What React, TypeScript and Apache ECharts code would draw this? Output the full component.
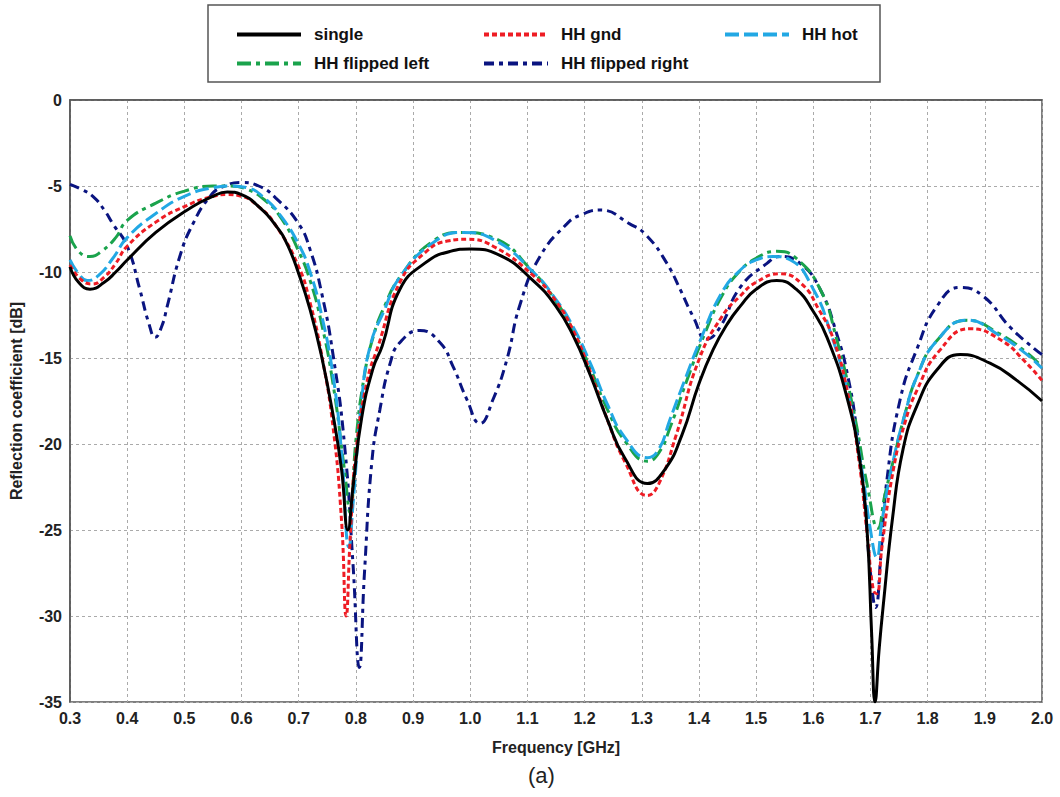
import React, { useEffect, useRef } from "react";
import * as echarts from "echarts";

const seriesNames = ["single", "HH gnd", "HH hot", "HH flipped left", "HH flipped right"];

const singleF = [0.30, 0.315, 0.335, 0.36, 0.38, 0.40, 0.45, 0.50, 0.55, 0.575, 0.60, 0.63, 0.66, 0.68, 0.70, 0.72, 0.74, 0.76, 0.775, 0.786, 0.795, 0.81, 0.83, 0.846, 0.877, 0.92, 0.965, 1.00, 1.05, 1.11, 1.15, 1.18, 1.21, 1.24, 1.27, 1.31, 1.34, 1.37, 1.40, 1.425, 1.45, 1.472, 1.50, 1.536, 1.57, 1.60, 1.624, 1.659, 1.682, 1.694, 1.702, 1.708, 1.715, 1.722, 1.739, 1.757, 1.781, 1.816, 1.857, 1.909, 1.956, 2.00];
const singleDb = [-9.7, -10.6, -11.0, -10.6, -10.0, -9.3, -7.7, -6.5, -5.6, -5.35, -5.5, -6.2, -7.3, -8.4, -10.1, -12.2, -14.9, -18.3, -21.5, -25.0, -22.5, -18.5, -15.6, -14.3, -11.0, -9.5, -8.8, -8.66, -9.0, -10.5, -12.0, -13.7, -16.0, -18.6, -20.8, -22.3, -21.5, -19.5, -16.5, -14.5, -13.0, -12.0, -11.0, -10.5, -11.0, -12.3, -13.8, -17.3, -21.1, -25.0, -31.0, -35.0, -32.0, -29.5, -24.2, -20.3, -17.8, -15.7, -14.8, -15.3, -16.3, -17.5];

const gndF = [0.30, 0.318, 0.338, 0.36, 0.38, 0.40, 0.45, 0.50, 0.55, 0.575, 0.60, 0.63, 0.66, 0.70, 0.72, 0.74, 0.76, 0.775, 0.783, 0.79, 0.80, 0.82, 0.839, 0.877, 0.92, 0.96, 0.994, 1.04, 1.11, 1.15, 1.18, 1.21, 1.24, 1.27, 1.31, 1.33, 1.36, 1.40, 1.44, 1.472, 1.50, 1.542, 1.58, 1.61, 1.634, 1.66, 1.68, 1.695, 1.705, 1.711, 1.72, 1.74, 1.76, 1.781, 1.82, 1.874, 1.93, 1.97, 2.00];
const gndDb = [-9.6, -10.4, -10.7, -10.3, -9.5, -8.5, -7.1, -6.2, -5.6, -5.5, -5.6, -6.2, -7.3, -9.7, -11.8, -14.8, -19.0, -24.5, -30.0, -25.5, -20.5, -16.3, -14.3, -10.6, -8.9, -8.2, -8.1, -8.5, -10.2, -11.7, -13.4, -15.8, -18.6, -21.0, -23.0, -22.3, -19.5, -15.1, -12.6, -11.4, -10.6, -10.1, -10.7, -12.2, -13.8, -17.0, -21.0, -25.5, -28.5, -28.7, -26.0, -21.5, -18.8, -16.9, -14.6, -13.3, -14.0, -15.2, -16.3];

const hotF = [0.30, 0.315, 0.33, 0.35, 0.375, 0.40, 0.45, 0.50, 0.55, 0.58, 0.61, 0.64, 0.67, 0.70, 0.72, 0.74, 0.76, 0.775, 0.788, 0.795, 0.81, 0.825, 0.85, 0.877, 0.935, 0.987, 1.04, 1.11, 1.15, 1.18, 1.21, 1.24, 1.27, 1.31, 1.33, 1.349, 1.375, 1.402, 1.44, 1.472, 1.50, 1.53, 1.56, 1.60, 1.63, 1.66, 1.685, 1.70, 1.711, 1.72, 1.739, 1.76, 1.781, 1.816, 1.869, 1.926, 1.97, 2.00];
const hotDb = [-9.3, -10.1, -10.5, -10.2, -9.2, -8.0, -6.6, -5.6, -5.1, -5.0, -5.1, -5.7, -6.8, -8.4, -10.0, -12.5, -16.0, -20.5, -26.0, -23.5, -17.5, -14.3, -12.2, -10.3, -8.3, -7.7, -8.1, -10.0, -11.6, -13.2, -15.3, -17.7, -19.6, -20.8, -20.3, -18.6, -16.3, -14.0, -11.2, -9.9, -9.3, -9.1, -9.3, -11.0, -13.5, -17.0, -21.5, -25.0, -26.6, -24.5, -21.1, -18.3, -16.1, -14.0, -12.8, -13.7, -14.7, -15.6];

const leftF = [0.30, 0.315, 0.335, 0.355, 0.38, 0.40, 0.45, 0.50, 0.55, 0.58, 0.61, 0.64, 0.67, 0.70, 0.72, 0.74, 0.76, 0.78, 0.79, 0.80, 0.815, 0.83, 0.85, 0.877, 0.935, 0.987, 1.04, 1.11, 1.15, 1.18, 1.21, 1.24, 1.27, 1.31, 1.33, 1.35, 1.38, 1.41, 1.44, 1.47, 1.50, 1.536, 1.57, 1.612, 1.64, 1.67, 1.695, 1.713, 1.725, 1.739, 1.76, 1.781, 1.816, 1.869, 1.926, 1.97, 2.00];
const leftDb = [-7.9, -8.8, -9.1, -8.8, -8.0, -7.0, -6.0, -5.3, -5.0, -5.0, -5.2, -5.8, -6.9, -8.8, -10.5, -13.0, -16.5, -21.5, -24.0, -19.8, -16.0, -13.8, -12.0, -10.3, -8.2, -7.7, -8.0, -10.0, -11.7, -13.4, -15.6, -18.0, -19.8, -21.0, -20.5, -19.0, -16.2, -13.6, -11.4, -10.0, -9.2, -8.8, -9.2, -11.0, -13.8, -18.0, -22.5, -24.9, -23.0, -21.1, -18.3, -16.1, -14.0, -12.8, -13.6, -14.6, -15.5];

const rightF = [0.30, 0.32, 0.34, 0.36, 0.375, 0.40, 0.422, 0.438, 0.449, 0.46, 0.47, 0.492, 0.515, 0.545, 0.567, 0.60, 0.63, 0.66, 0.70, 0.72, 0.74, 0.76, 0.78, 0.795, 0.806, 0.815, 0.828, 0.842, 0.86, 0.877, 0.912, 0.947, 0.97, 0.994, 1.017, 1.04, 1.064, 1.087, 1.122, 1.169, 1.192, 1.227, 1.279, 1.309, 1.344, 1.367, 1.39, 1.414, 1.437, 1.472, 1.519, 1.542, 1.577, 1.612, 1.641, 1.66, 1.676, 1.69, 1.70, 1.709, 1.718, 1.728, 1.752, 1.781, 1.816, 1.857, 1.897, 1.944, 1.988, 2.00];
const rightDb = [-4.9, -5.2, -5.6, -6.4, -7.2, -8.5, -11.0, -13.0, -13.8, -13.2, -12.0, -9.1, -7.2, -5.6, -5.05, -4.8, -5.0, -5.7, -7.2, -8.7, -11.2, -14.8, -20.0, -27.0, -33.0, -27.5, -21.0, -18.0, -15.3, -14.1, -13.4, -14.1, -15.5, -17.4, -18.8, -17.4, -15.1, -11.9, -9.1, -7.2, -6.7, -6.4, -7.2, -7.9, -9.5, -11.0, -12.6, -13.9, -13.2, -10.9, -9.5, -9.1, -9.5, -11.0, -13.6, -16.0, -19.2, -23.5, -27.5, -29.5, -26.5, -22.3, -17.4, -14.5, -12.0, -10.9, -11.4, -13.2, -14.5, -14.8];

const yTicks = [-35, -30, -25, -20, -15, -10, -5, 0];

const zip = (f: number[], d: number[]) => f.map((x, i) => [x, d[i]]);

export default function App() {
  const ref = useRef<HTMLDivElement>(null);
  useEffect(() => {
    if (!ref.current) return;
    const chart = echarts.init(ref.current, null, { renderer: "svg" });
    const styles = [
      { color: "#000000", type: "solid" as any, width: 3 },
      { color: "#ee1c24", type: [5, 3] as any, width: 3 },
      { color: "#22a8e4", type: [14, 5] as any, width: 3 },
      { color: "#1aa34c", type: [14, 5, 4, 5] as any, width: 3 },
      { color: "#0a1480", type: [10, 5, 4, 5] as any, width: 3 },
    ];
    const datas = [zip(singleF, singleDb), zip(gndF, gndDb), zip(hotF, hotDb), zip(leftF, leftDb), zip(rightF, rightDb)];
    const legendPos = [
      { left: 230, top: 21 },
      { left: 477, top: 21 },
      { left: 718, top: 21 },
      { left: 230, top: 50 },
      { left: 477, top: 50 },
    ];
    const axisFont = "'Liberation Sans Narrow', 'Liberation Sans', Arial, sans-serif";
    chart.setOption({
      animation: false,
      backgroundColor: "#ffffff",
      grid: { left: 70, right: 18, top: 100, bottom: 95, show: true, borderColor: "#555", borderWidth: 1.5 },
      legend: seriesNames.map((n, i) => ({
        data: [n],
        left: legendPos[i].left,
        top: legendPos[i].top,
        itemWidth: 64,
        itemHeight: 18,
        itemGap: 0,
        itemStyle: { opacity: 0 },
        lineStyle: { width: 4 },
        textStyle: { fontSize: 17, fontWeight: "bold", color: "#111", fontFamily: "'Liberation Sans', Arial, sans-serif", padding: [0, 0, 0, 8] },
        selectedMode: false,
      })),
      xAxis: {
        type: "value",
        min: 0.3,
        max: 2.0,
        interval: 0.1,
        name: "Frequency [GHz]",
        nameLocation: "middle",
        nameGap: 37,
        nameTextStyle: { fontSize: 16, fontWeight: "bold", color: "#222", fontFamily: axisFont },
        axisLine: { show: true, lineStyle: { color: "#555", width: 1.5 } },
        axisTick: { show: false },
        axisLabel: {
          fontSize: 16,
          fontWeight: "bold",
          color: "#222",
          fontFamily: axisFont,
          margin: 8,
          formatter: (v: number) => v.toFixed(1),
        },
        splitLine: { show: true, lineStyle: { color: "#aaaaaa", type: [3, 3], width: 1 } },
      },
      yAxis: {
        type: "value",
        min: yTicks[0],
        max: yTicks[yTicks.length - 1],
        interval: 5,
        name: "Reflection coefficient [dB]",
        nameLocation: "middle",
        nameGap: 46,
        nameTextStyle: { fontSize: 16, fontWeight: "bold", color: "#222", fontFamily: axisFont },
        axisLine: { show: true, lineStyle: { color: "#555", width: 1.5 } },
        axisTick: { show: false },
        axisLabel: { fontSize: 16, fontWeight: "bold", color: "#222", fontFamily: axisFont, margin: 8 },
        splitLine: { show: true, lineStyle: { color: "#aaaaaa", type: [3, 3], width: 1 } },
      },
      graphic: [
        {
          type: "rect",
          shape: { x: 208, y: 5, width: 672, height: 77 },
          style: { fill: "none", stroke: "#555", lineWidth: 1.5 },
          z: 0,
        },
        {
          type: "text",
          left: 528,
          top: 764,
          style: { text: "(a)", fontSize: 22, fill: "#222", fontFamily: "'Liberation Sans', Arial, sans-serif" },
        },
      ],
      series: seriesNames.map((n, i) => ({
        name: n,
        type: "line",
        data: datas[i],
        symbol: "none",
        smooth: 0.5,
        lineStyle: styles[i],
        itemStyle: { color: styles[i].color },
        z: 10 - i,
      })),
    });
    return () => chart.dispose();
  }, []);
  return <div ref={ref} style={{ position: "absolute", left: 0, top: 0, width: 1060, height: 797, background: "#fff" }} />;
}
